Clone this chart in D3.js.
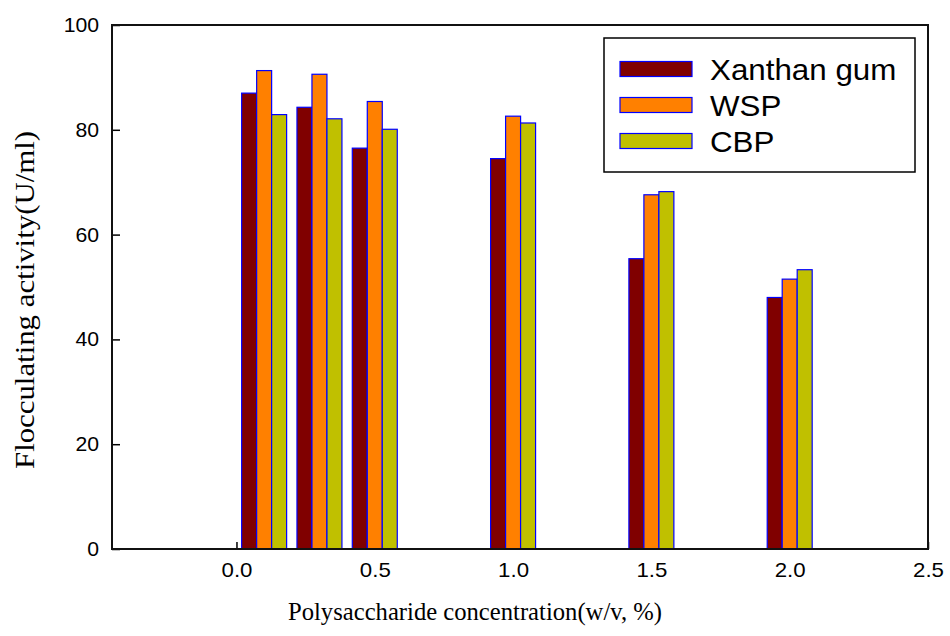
<!DOCTYPE html>
<html lang="en">
<head>
  <meta charset="UTF-8">
  <title>Flocculating activity vs polysaccharide concentration</title>
  <style>
    body { margin: 0; background: #fff; }
    .tick text { font-family: "Liberation Sans", Arial, sans-serif; fill: #000; }
    .tick line { stroke: #000; stroke-width: 1.5; }
    .title { font-family: "Liberation Serif", "Times New Roman", serif; fill: #000; }
    .leg { font-family: "Liberation Sans", Arial, sans-serif; font-size: 29px; fill: #000; }
  </style>
</head>
<body>
  <svg id="chart" width="950" height="636"></svg>

  <script src="https://d3js.org/d3.v7.min.js"></script>
  <script>
    // Данные
    const CONC = [0.1, 0.3, 0.5, 1.0, 1.5, 2.0];
    const XANTHAN = [87.0, 84.3, 76.5, 74.5, 55.4, 48.0];
    const WSP = [91.3, 90.6, 85.4, 82.6, 67.6, 51.5];
    const CBP = [82.9, 82.1, 80.1, 81.3, 68.2, 53.3];
    const SERIES = ["Xanthan gum", "WSP", "CBP"];
    const X_TICKS = [0, 0.5, 1.0, 1.5, 2.0, 2.5];
    const Y_TICKS = [0, 20, 40, 60, 80, 100];

    const COLORS = ["#800000", "#ff8000", "#c0c000"];
    const VALUES = [XANTHAN, WSP, CBP];

    const L = 112, R = 928, T = 25, B = 549;
    const barW = 0.0542; // ширина столбца в единицах оси x

    const svg = d3.select("#chart");
    const x = d3.scaleLinear().domain([-0.45, 2.5]).range([L, R]);
    const y = d3.scaleLinear().domain([0, 100]).range([B, T]);

    // растянуть текст по горизонтали, как на картинке
    const stretch = (sel, k) => sel.each(function () {
      const w = this.getComputedTextLength();
      d3.select(this).attr("textLength", w * k).attr("lengthAdjust", "spacingAndGlyphs");
    });

    // Оси (тики внутрь)
    const gx = svg.append("g").attr("transform", `translate(0,${B})`)
      .call(d3.axisBottom(x).tickValues(X_TICKS).tickFormat(d3.format(".1f"))
        .tickSizeInner(-7).tickSizeOuter(0).tickPadding(13));
    gx.select(".domain").remove();
    gx.selectAll(".tick text").style("font-size", "21px").call(stretch, 1.06);

    const gy = svg.append("g").attr("transform", `translate(${L},0)`)
      .call(d3.axisLeft(y).tickValues(Y_TICKS).tickFormat(d3.format("d"))
        .tickSizeInner(-8).tickSizeOuter(0).tickPadding(13));
    gy.select(".domain").remove();
    gy.selectAll(".tick text").style("font-size", "20px").call(stretch, 1.06);

    // Столбцы
    SERIES.forEach((s, i) => {
      svg.append("g").selectAll("rect")
        .data(CONC.map((c, j) => ({ c, v: VALUES[i][j] })))
        .join("rect")
        .attr("x", d => x(d.c + (i - 1.5) * barW))
        .attr("width", d => x(d.c + (i - 0.5) * barW) - x(d.c + (i - 1.5) * barW))
        .attr("y", d => y(d.v))
        .attr("height", d => y(0) - y(d.v))
        .attr("fill", COLORS[i])
        .attr("stroke", "#0000ff")
        .attr("stroke-width", 1.2);
    });

    // Рамка
    svg.append("rect")
      .attr("x", L).attr("y", T).attr("width", R - L).attr("height", B - T)
      .attr("fill", "none").attr("stroke", "#111").attr("stroke-width", 2);

    // Легенда
    const lg = svg.append("g");
    lg.append("rect").attr("x", 604).attr("y", 38).attr("width", 311).attr("height", 134)
      .attr("fill", "#fff").attr("stroke", "#000").attr("stroke-width", 1.5);
    SERIES.forEach((s, i) => {
      const cy = 69 + i * 36;
      lg.append("text").attr("class", "leg").attr("x", 710).attr("y", cy + 10.5).text(s)
        .call(stretch, 1.08);
      lg.append("rect").attr("x", 620).attr("y", cy - 7.5).attr("width", 72).attr("height", 15)
        .attr("fill", COLORS[i]).attr("stroke", "#0000ff").attr("stroke-width", 1.2);
    });

    // Подписи осей
    svg.append("text").attr("class", "title").style("font-size", "26px")
      .attr("x", (288 + 662) / 2).attr("y", 620).attr("text-anchor", "middle")
      .text("Polysaccharide concentration(w/v, %)")
      .attr("textLength", 374).attr("lengthAdjust", "spacingAndGlyphs");

    svg.append("text").attr("class", "title").style("font-size", "28px")
      .attr("transform", "translate(34,300) rotate(-90)").attr("text-anchor", "middle")
      .text("Flocculating activity(U/ml)")
      .attr("textLength", 338).attr("lengthAdjust", "spacingAndGlyphs");
  </script>
</body>
</html>
